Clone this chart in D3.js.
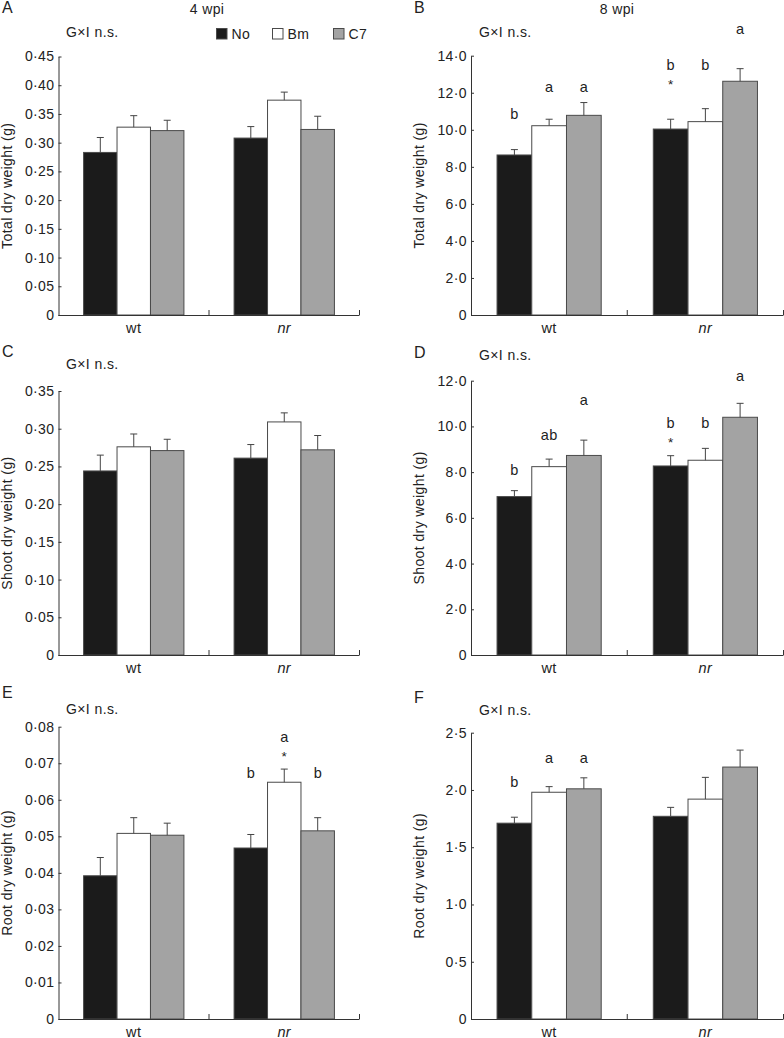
<!DOCTYPE html>
<html>
<head>
<meta charset="utf-8">
<script src="https://cdn.jsdelivr.net/npm/d3@7"></script>
<style>
	body { margin: 0; background: #fff; }
	svg { display: block; font-family: 'Liberation Sans', Arial, Helvetica, sans-serif; }
	svg text { letter-spacing: 0.4px; }
</style>
</head>
<body>
<svg id="chart" width="784" height="1038"></svg>
<script>
	'use strict';

	var genotypes = ['wt', 'nr'];
	var treatments = ['No', 'Bm', 'C7'];

	// means and standard errors, ordered wt No, wt Bm, wt C7, nr No, nr Bm, nr C7
	var totalDw4 = [0.283, 0.327, 0.321, 0.308, 0.374, 0.323];
	var totalDw4Se = [0.026, 0.020, 0.018, 0.020, 0.014, 0.023];
	var totalDw8 = [8.64, 10.22, 10.78, 10.04, 10.44, 12.62];
	var totalDw8Se = [0.29, 0.35, 0.69, 0.53, 0.70, 0.68];
	var shootDw4 = [0.244, 0.276, 0.271, 0.261, 0.309, 0.272];
	var shootDw4Se = [0.021, 0.017, 0.015, 0.018, 0.012, 0.019];
	var shootDw8 = [6.93, 8.24, 8.73, 8.27, 8.52, 10.40];
	var shootDw8Se = [0.26, 0.33, 0.67, 0.45, 0.52, 0.61];
	var rootDw4 = [0.0392, 0.0508, 0.0503, 0.0468, 0.0648, 0.0515];
	var rootDw4Se = [0.0050, 0.0043, 0.0033, 0.0037, 0.0036, 0.0036];
	var rootDw8 = [1.71, 1.98, 2.01, 1.77, 1.92, 2.20];
	var rootDw8Se = [0.052, 0.049, 0.096, 0.078, 0.19, 0.148];

	// significance letters and stars
	var totalDw8Letters = ['b', 'a', 'a', 'b', 'b', 'a'];
	var totalDw8Stars = [0, 0, 0, 1, 0, 0];
	var shootDw8Letters = ['b', 'ab', 'a', 'b', 'b', 'a'];
	var shootDw8Stars = [0, 0, 0, 1, 0, 0];
	var rootDw4Letters = ['', '', '', 'b', 'a', 'b'];
	var rootDw4Stars = [0, 0, 0, 0, 1, 0];
	var rootDw8Letters = ['b', 'a', 'a', '', '', ''];
	var rootDw8Stars = [0, 0, 0, 0, 0, 0];

	// y-axis tick values
	var totalDw4Ticks = d3.range(0, 10).map(function(i) { return i * 0.05; });
	var totalDw8Ticks = [0, 2, 4, 6, 8, 10, 12, 14];
	var shootDw4Ticks = d3.range(0, 8).map(function(i) { return i * 0.05; });
	var shootDw8Ticks = [0, 2, 4, 6, 8, 10, 12];
	var rootDw4Ticks = d3.range(0, 9).map(function(i) { return i * 0.01; });
	var rootDw8Ticks = [0, 0.5, 1, 1.5, 2, 2.5];

	var fills = {No: '#1b1b1b', Bm: '#ffffff', C7: '#a3a3a3'};
	var barStroke = '#4a4a4a';
	var ink = '#222';

	var svg = d3.select('#chart');

	var panels = [
		{label: 'A', lx: 2, ly: 13, gx: 66, gy: 37, x0: 58.5, x1: 359.5, top: 56.5, bottom: 315,
			ticks: totalDw4Ticks, dec: 2, mean: totalDw4, se: totalDw4Se, title: 'Total dry weight (g)'},
		{label: 'B', lx: 414, ly: 13, gx: 479, gy: 37, x0: 471, x1: 783.5, top: 55.7, bottom: 315,
			ticks: totalDw8Ticks, dec: 1, mean: totalDw8, se: totalDw8Se, title: 'Total dry weight (g)',
			letters: totalDw8Letters, stars: totalDw8Stars, letterAt: [10.57, 12.06, 12.06, 13.23, 13.23, 15.16]},
		{label: 'C', lx: 2, ly: 357, gx: 66, gy: 369, x0: 58.5, x1: 359.5, top: 391, bottom: 655,
			ticks: shootDw4Ticks, dec: 2, mean: shootDw4, se: shootDw4Se, title: 'Shoot dry weight (g)'},
		{label: 'D', lx: 414, ly: 358, gx: 479, gy: 360, x0: 471, x1: 783.5, top: 380.7, bottom: 655,
			ticks: shootDw8Ticks, dec: 1, mean: shootDw8, se: shootDw8Se, title: 'Shoot dry weight (g)',
			letters: shootDw8Letters, stars: shootDw8Stars, letterAt: [7.87, 9.41, 10.94, 9.92, 9.92, 11.99]},
		{label: 'E', lx: 2, ly: 698, gx: 66, gy: 714, x0: 58.5, x1: 359.5, top: 726.7, bottom: 1019,
			ticks: rootDw4Ticks, dec: 2, mean: rootDw4, se: rootDw4Se, title: 'Root dry weight (g)',
			letters: rootDw4Letters, stars: rootDw4Stars, letterAt: [0, 0, 0, 0.0660, 0.0757, 0.0660]},
		{label: 'F', lx: 414, ly: 703, gx: 479, gy: 715, x0: 471, x1: 783.5, top: 732.7, bottom: 1019,
			ticks: rootDw8Ticks, dec: 1, mean: rootDw8, se: rootDw8Se, title: 'Root dry weight (g)',
			letters: rootDw8Letters, stars: rootDw8Stars, letterAt: [2.029, 2.233, 2.233, 0, 0, 0]}
	];

	panels.forEach(drawPanel);

	// column titles
	svg.append('text')
		.attr('x', 207).attr('y', 13.5)
		.attr('text-anchor', 'middle')
		.attr('font-size', 14)
		.attr('fill', ink)
		.text('4 wpi');
	svg.append('text')
		.attr('x', 617).attr('y', 13.5)
		.attr('text-anchor', 'middle')
		.attr('font-size', 14)
		.attr('fill', ink)
		.text('8 wpi');

	// legend
	var legendX = [216, 272, 333];
	var legend = svg.selectAll('g.legend')
		.data(treatments).enter()
		.append('g')
			.attr('class', 'legend')
			.attr('transform', function(d, i) { return 'translate(' + legendX[i] + ',28)'; });
	legend.append('rect')
		.attr('x', 0.5).attr('y', 0.5)
		.attr('width', 10.5).attr('height', 10.5)
		.attr('fill', function(d) { return fills[d]; })
		.attr('stroke', barStroke);
	legend.append('text')
		.attr('x', 15.5).attr('y', 10.5)
		.attr('font-size', 14)
		.attr('fill', ink)
		.text(function(d) { return d; });

	function fmt(dec) {
		return function(d) {
			if (d === 0) return '0';
			return d3.format('.' + dec + 'f')(d).replace('.', '\u00b7');
		};
	}

	function drawPanel(p) {
		var rows = [];
		genotypes.forEach(function(g, gi) {
			treatments.forEach(function(t, ti) {
				var k = gi * 3 + ti;
				rows.push({
					genotype: g, treatment: t,
					mean: p.mean[k], se: p.se[k],
					letter: p.letters ? p.letters[k] : '',
					star: p.stars ? p.stars[k] : 0,
					letterAt: p.letterAt ? p.letterAt[k] : 0
				});
			});
		});

		var x = d3.scaleBand()
			.domain(genotypes)
			.range([p.x0, p.x1]);

		var xt = d3.scaleBand()
			.domain(treatments)
			.range([x.bandwidth() / 6, x.bandwidth() * 5 / 6]);

		var y = d3.scaleLinear()
			.domain([0, p.ticks[p.ticks.length - 1]])
			.range([p.bottom, p.top]);

		var g = svg.append('g');

		// panel letter + interaction note
		g.append('text')
			.attr('x', p.lx).attr('y', p.ly)
			.attr('font-size', 16)
			.attr('fill', ink)
			.text(p.label);
		g.append('text')
			.attr('x', p.gx).attr('y', p.gy)
			.attr('font-size', 14)
			.attr('letter-spacing', '1px')
			.attr('fill', ink)
			.text('G\u00d7I n.s.');

		// bars
		g.selectAll('rect.bar')
			.data(rows).enter()
			.append('rect')
				.attr('class', 'bar')
				.attr('x', function(d) { return x(d.genotype) + xt(d.treatment); })
				.attr('y', function(d) { return y(d.mean); })
				.attr('width', xt.bandwidth())
				.attr('height', function(d) { return y(0) - y(d.mean); })
				.attr('fill', function(d) { return fills[d.treatment]; })
				.attr('stroke', barStroke)
				.attr('stroke-width', 1);

		// error bars (upper only)
		var err = g.selectAll('g.err')
			.data(rows).enter()
			.append('g')
				.attr('class', 'err')
				.attr('transform', function(d) {
					return 'translate(' + (x(d.genotype) + xt(d.treatment) + xt.bandwidth() / 2) + ',0)';
				});
		err.append('line')
			.attr('x1', 0).attr('x2', 0)
			.attr('y1', function(d) { return y(d.mean); })
			.attr('y2', function(d) { return y(d.mean + d.se); })
			.attr('stroke', '#444');
		err.append('line')
			.attr('x1', -3.5).attr('x2', 3.5)
			.attr('y1', function(d) { return y(d.mean + d.se); })
			.attr('y2', function(d) { return y(d.mean + d.se); })
			.attr('stroke', '#444');

		// significance letters
		var sig = rows.filter(function(d) { return d.letter; });
		g.selectAll('text.letter')
			.data(sig).enter()
			.append('text')
				.attr('class', 'letter')
				.attr('x', function(d) { return x(d.genotype) + xt(d.treatment) + xt.bandwidth() / 2 + 0.2; })
				.attr('y', function(d) { return y(d.letterAt); })
				.attr('text-anchor', 'middle')
				.attr('font-size', 14.5)
				.attr('fill', ink)
				.text(function(d) { return d.letter; });
		g.selectAll('text.star')
			.data(sig.filter(function(d) { return d.star; })).enter()
			.append('text')
				.attr('class', 'star')
				.attr('x', function(d) { return x(d.genotype) + xt(d.treatment) + xt.bandwidth() / 2 + 0.2; })
				.attr('y', function(d) { return y(d.letterAt) + 19; })
				.attr('text-anchor', 'middle')
				.attr('font-size', 13.5)
				.attr('fill', ink)
				.text('*');

		// y axis
		var yAxis = g.append('g')
			.attr('transform', 'translate(' + p.x0 + ',0)')
			.call(d3.axisLeft(y)
				.tickValues(p.ticks)
				.tickFormat(fmt(p.dec))
				.tickSize(-3)
				.tickSizeOuter(0)
				.tickPadding(4));
		yAxis.attr('font-family', null);
		yAxis.select('.domain').attr('stroke', '#333');
		yAxis.selectAll('.tick line').attr('stroke', '#333');
		yAxis.selectAll('.tick text')
			.attr('font-size', 14)
			.attr('fill', ink);

		// y title
		g.append('text')
			.attr('transform', 'translate(' + (p.x0 - 47) + ',' + ((p.top + p.bottom) / 2) + ') rotate(-90)')
			.attr('text-anchor', 'middle')
			.attr('font-size', 14)
			.attr('letter-spacing', '0.4px')
			.attr('fill', ink)
			.text(p.title);

		// x axis line with upward ticks between groups
		g.append('line')
			.attr('x1', p.x0).attr('x2', p.x1)
			.attr('y1', y(0) + 0.5).attr('y2', y(0) + 0.5)
			.attr('stroke', '#333');
		g.selectAll('line.xtick')
			.data([x(genotypes[1]), x.range()[1]]).enter()
			.append('line')
				.attr('class', 'xtick')
				.attr('x1', function(d) { return d; })
				.attr('x2', function(d) { return d; })
				.attr('y1', y(0))
				.attr('y2', y(0) - 5)
				.attr('stroke', '#333');

		g.selectAll('text.xlabel')
			.data(genotypes).enter()
			.append('text')
				.attr('class', 'xlabel')
				.attr('x', function(d) { return x(d) + x.bandwidth() / 2; })
				.attr('y', y(0) + 17.5)
				.attr('text-anchor', 'middle')
				.attr('font-size', 14.5)
				.attr('font-style', function(d) { return d === 'nr' ? 'italic' : 'normal'; })
				.attr('fill', ink)
				.text(function(d) { return d; });
	}
</script>
</body>
</html>
